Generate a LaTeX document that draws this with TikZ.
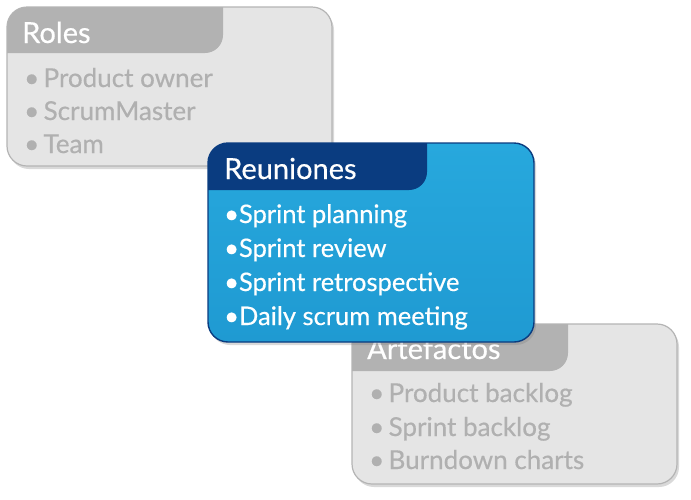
\documentclass[tikz,border=0pt]{standalone}
\usepackage{fontspec}
\setmainfont{Lato}
\newfontfamily\medfont{Lato}[FakeBold=0.5]
\usetikzlibrary{shadows}
\definecolor{cardgray}{HTML}{E5E5E5}
\definecolor{edgegray}{HTML}{B4B4B4}
\definecolor{tabgray}{HTML}{B2B2B2}
\definecolor{textgray}{HTML}{B0B0B0}
\definecolor{cardblue}{HTML}{27A8DD}
\definecolor{cardblueb}{HTML}{1F9AD2}
\definecolor{navyblue}{HTML}{0A3C80}
\tikzset{
  cardshadow/.style={rounded corners=20, drop shadow={opacity=.3, shadow xshift=2pt, shadow yshift=-3pt}},
  tabtitle/.style={anchor=base west, inner sep=0pt, text=white, font=\medfont\fontsize{29}{29}\selectfont},
  item/.style={anchor=base west, inner sep=0pt, font=\medfont\fontsize{25.5}{25.5}\selectfont},
  greyitem/.style={item, text=textgray, font=\medfont\fontsize{26}{26}\selectfont},
}
\begin{document}
\begin{tikzpicture}[x=1pt,y=-1pt]
    \useasboundingbox (0,0) rectangle (691,499);
    % Roles
    \begin{scope}
      \path[cardshadow, fill=cardgray] (7,7) rectangle (332,166);
      \begin{scope}
        \clip[rounded corners=20] (7,7) rectangle (332,166);
        \fill[tabgray] (7,7) -- (223,7) -- (223,35) .. controls (223,45) and (215,53) .. (205,53) -- (7,53) -- cycle;
      \end{scope}
      \draw[edgegray, line width=1.2pt, rounded corners=20] (7,7) rectangle (332,166);
      \node[tabtitle] (roles) at (22,43) {Roles};
      \node[greyitem] (owner) at (24,87) {•\,Product owner};
      \node[greyitem] (master) at (24,120) {•\,ScrumMaster};
      \node[greyitem] (team) at (24,153) {•\,Team};
    \end{scope}
    % Artefactos
    \begin{scope}
      \path[cardshadow, fill=cardgray] (352,324) rectangle (677,484);
      \begin{scope}
        \clip[rounded corners=20] (352,324) rectangle (677,484);
        \fill[tabgray] (352,324) -- (568,324) -- (568,353) .. controls (568,363) and (560,371) .. (550,371) -- (352,371) -- cycle;
      \end{scope}
      \draw[edgegray, line width=1.2pt, rounded corners=20] (352,324) rectangle (677,484);
      \node[tabtitle] (artefactos) at (367,359) {Artefactos};
      \node[greyitem] (pbacklog) at (369,402) {•\,Product backlog};
      \node[greyitem] (sbacklog) at (369,436) {•\,Sprint backlog};
      \node[greyitem] (burndown) at (369,469) {•\,Burndown charts};
    \end{scope}
    % Reuniones
    \begin{scope}
      \path[cardshadow, top color=cardblue, bottom color=cardblueb] (208,143) rectangle (534,342);
      \begin{scope}
        \clip[rounded corners=20] (208,143) rectangle (534,342);
        \fill[navyblue] (208,143) -- (427,143) -- (427,172) .. controls (427,182) and (419,190) .. (409,190) -- (208,190) -- cycle;
      \end{scope}
      \draw[navyblue, line width=1.4pt, rounded corners=20] (208,143) rectangle (534,342);
      \node[tabtitle] (reuniones) at (224,179) {Reuniones};
      \node[item, text=white] (planning) at (224,223) {•Sprint planning};
      \node[item, text=white] (review) at (224,257) {•Sprint review};
      \node[item, text=white] (retro) at (224,291) {•Sprint retrospective};
      \node[item, text=white] (daily) at (224,325) {•Daily scrum meeting};
    \end{scope}
\end{tikzpicture}
\end{document}
